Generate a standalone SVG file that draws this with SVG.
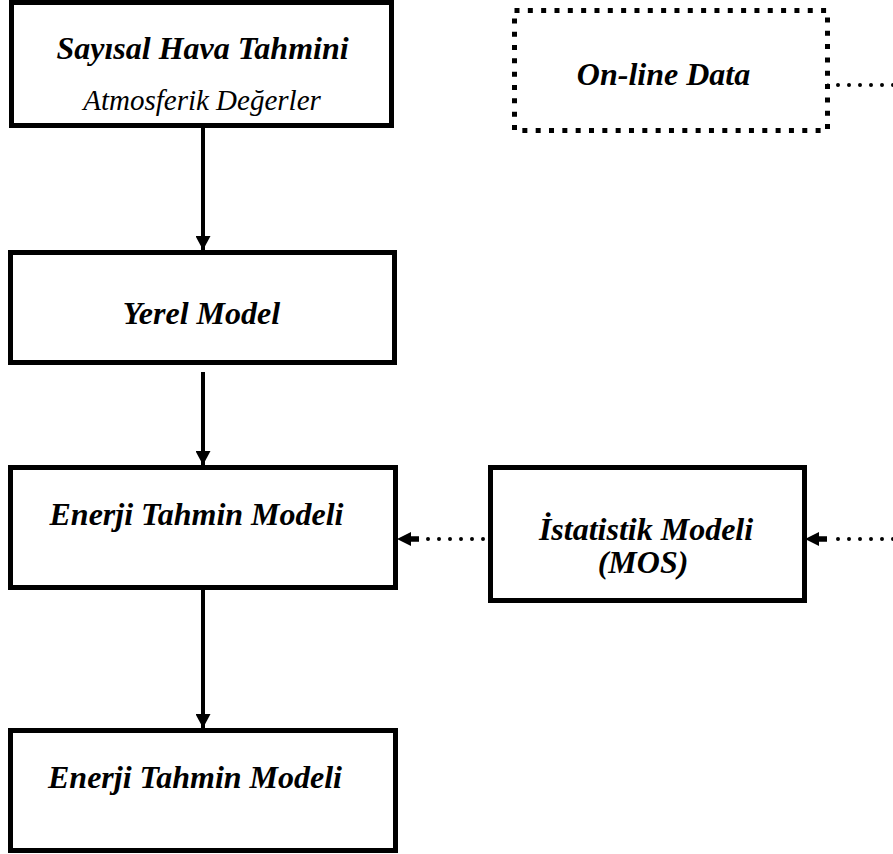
<svg xmlns="http://www.w3.org/2000/svg" width="893" height="854" viewBox="0 0 893 854">
<style>
.box{fill:#fff;stroke:#000;stroke-width:5}
.dbox{fill:#fff;stroke:#000;stroke-width:5;stroke-dasharray:5 8.33}
text{font-family:'Liberation Serif','DejaVu Serif',serif;fill:#000;text-anchor:middle;font-style:italic}
.t{font-weight:bold;font-size:32px}
.ts{font-weight:normal;font-size:29px}
.solid{stroke:#000;stroke-width:4;fill:none}
.dots{stroke:#000;stroke-width:4;fill:none;stroke-linecap:round;stroke-dasharray:0 11}
</style>
<defs>
<marker id="ah" markerUnits="userSpaceOnUse" viewBox="0 0 14 15" markerWidth="14" markerHeight="15" refX="14" refY="7.5" orient="auto">
<path d="M0,0 L14,7.5 L0,15 z" fill="#000"/>
</marker>
</defs>
<g id="connectors">
<line class="solid" x1="203" y1="128" x2="203" y2="250" stroke-width="3" marker-end="url(#ah)"/>
<line class="solid" x1="203" y1="372" x2="203" y2="465" marker-end="url(#ah)"/>
<line class="solid" x1="203" y1="590" x2="203" y2="728" marker-end="url(#ah)"/>
<line class="dots" x1="827" y1="85" x2="895" y2="85"/>
<line class="dots" x1="893" y1="539" x2="827" y2="539"/>
<line class="dots" x1="483" y1="539" x2="419" y2="539"/>
<path d="M827,536.2 L819,536.2 L819,532 L805,539 L819,546 L819,541.8 L827,541.8 z" fill="#000"/>
<path d="M419,536.2 L411,536.2 L411,532 L397,539 L411,546 L411,541.8 L419,541.8 z" fill="#000"/>
</g>
<g id="n1">
<rect class="box" x="11.5" y="2.5" width="380" height="123" stroke-width="4"/>
<text class="t" x="202.5" y="59" font-family="Liberation Serif, serif">Sayısal Hava Tahmini</text>
<text class="ts" x="202" y="110" font-family="Liberation Serif, serif">Atmosferik Değerler</text>
</g>
<g id="n2">
<rect class="dbox" x="514.5" y="10.5" width="313" height="120"/>
<text class="t" x="663.5" y="85">On-line Data</text>
</g>
<g id="n3">
<rect class="box" x="10.5" y="252.5" width="384" height="110"/>
<text class="t" x="201.5" y="324">Yerel Model</text>
</g>
<g id="n4">
<rect class="box" x="10.5" y="467.5" width="385" height="120"/>
<text class="t" x="196.5" y="525">Enerji Tahmin Modeli</text>
</g>
<g id="n5">
<rect class="box" x="490.5" y="467.5" width="314" height="133"/>
<text class="t" x="646" y="540">İstatistik Modeli</text>
<text class="t" x="643" y="573">(MOS)</text>
</g>
<g id="n6">
<rect class="box" x="10.5" y="730.5" width="385" height="120"/>
<text class="t" x="195" y="788">Enerji Tahmin Modeli</text>
</g>
</svg>
